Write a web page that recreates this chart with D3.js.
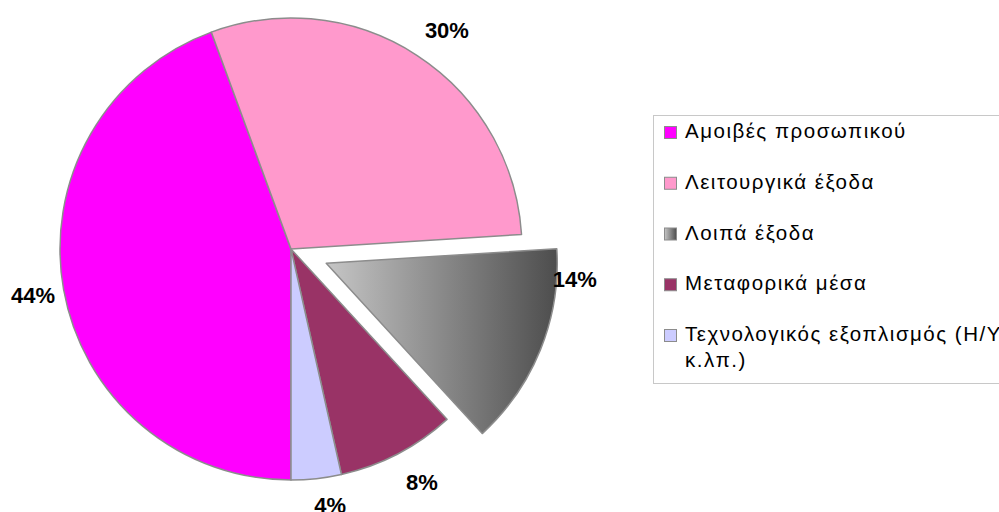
<!DOCTYPE html>
<html>
<head>
<meta charset="utf-8">
<script src="https://cdn.jsdelivr.net/npm/d3@7"></script>
<style>
  body { margin: 0; background: #fff; }
  svg { display: block; font-family: "Liberation Sans", Arial, sans-serif; }
</style>
</head>
<body>
<div id="chart"></div>
<script>
// chart data
const categories = ["Αμοιβές προσωπικού", "Λειτουργικά έξοδα", "Λοιπά έξοδα", "Μεταφορικά μέσα", "Τεχνολογικός εξοπλισμός (Η/Υ κ.λπ.)"];
const values = [44.4, 29.6, 14.2, 8.3, 3.5];
const colors = ["#FF00FF", "#FF99CC", "url(#grayGrad)", "#993366", "#CCCCFF"];
const exploded = [0, 0, 1, 0, 0];

const width = 999, height = 512;
const cx = 291, cy = 249, radius = 231, explodeDist = 38;

// label placement tweaks (excel "best fit" moves some labels)
const labelShift = [0, 2.3, -18.3, -1.8, -2.4];
const labelRadius = [262, 269, 249, 267, 259];

const svg = d3.select("#chart").append("svg")
    .attr("width", width)
    .attr("height", height);

const defs = svg.append("defs");
const grad = defs.append("linearGradient")
    .attr("id", "grayGrad")
    .attr("x1", 0).attr("y1", 0).attr("x2", 1).attr("y2", 0);
grad.append("stop").attr("offset", "0%").attr("stop-color", "#c6c6c6");
grad.append("stop").attr("offset", "100%").attr("stop-color", "#4d4d4d");

const total = d3.sum(values);

const pie = d3.pie()
    .sort(null)
    .value(d => d)
    .startAngle(Math.PI)
    .endAngle(3 * Math.PI);

const arc = d3.arc().innerRadius(0).outerRadius(radius);

const arcs = pie(values);

const g = svg.append("g").attr("transform", `translate(${cx},${cy})`);

function offsetOf(d, i) {
    let mid = (d.startAngle + d.endAngle) / 2;
    let k = exploded[i] ? explodeDist : 0;
    return [Math.sin(mid) * k, -Math.cos(mid) * k];
}

g.selectAll("path.slice")
    .data(arcs)
    .enter().append("path")
    .attr("class", "slice")
    .attr("d", arc)
    .attr("transform", (d, i) => `translate(${offsetOf(d, i)})`)
    .style("fill", (d, i) => colors[i])
    .style("stroke", "#8c8c8c")
    .style("stroke-width", 1.5)
    .style("stroke-linejoin", "round");

g.selectAll("text.pct")
    .data(arcs)
    .enter().append("text")
    .attr("class", "pct")
    .attr("x", (d, i) => {
        let a = (d.startAngle + d.endAngle) / 2 + labelShift[i] * Math.PI / 180;
        return offsetOf(d, i)[0] + Math.sin(a) * labelRadius[i];
    })
    .attr("y", (d, i) => {
        let a = (d.startAngle + d.endAngle) / 2 + labelShift[i] * Math.PI / 180;
        return offsetOf(d, i)[1] - Math.cos(a) * labelRadius[i];
    })
    .attr("dy", "0.36em")
    .attr("text-anchor", "middle")
    .style("font-size", "22px")
    .style("font-weight", "bold")
    .style("fill", "#000")
    .text(d => Math.round(d.data / total * 100) + "%");

// legend
const legend = svg.append("g");
legend.append("rect")
    .attr("x", 653.5).attr("y", 115.5)
    .attr("width", 360).attr("height", 268)
    .style("fill", "none")
    .style("stroke", "#c8c8c8")
    .style("stroke-width", 1);

const itemY = d3.scalePoint().domain(categories).range([138, 341]);
const maxTextWidth = 330;

categories.forEach((c, i) => {
    let y = itemY(c);
    legend.append("rect")
        .attr("x", 664.5).attr("y", y - 11.5)
        .attr("width", 12).attr("height", 12)
        .style("fill", colors[i])
        .style("stroke", "#8c8c8c")
        .style("stroke-width", 1);

    let t = legend.append("text")
        .attr("x", 685).attr("y", y)
        .style("font-size", "20.5px")
        .style("letter-spacing", "1.5px")
        .style("fill", "#000");

    // simple word wrap
    let words = c.split(" ");
    let line = [];
    let tspan = t.append("tspan").attr("x", 685).attr("y", y);
    let lineNo = 0;
    words.forEach(w => {
        line.push(w);
        tspan.text(line.join(" "));
        if (tspan.node().getComputedTextLength() > maxTextWidth && line.length > 1) {
            line.pop();
            tspan.text(line.join(" "));
            line = [w];
            lineNo++;
            tspan = t.append("tspan").attr("x", 685).attr("y", y + lineNo * 26).text(w);
        }
    });
});
</script>
</body>
</html>
